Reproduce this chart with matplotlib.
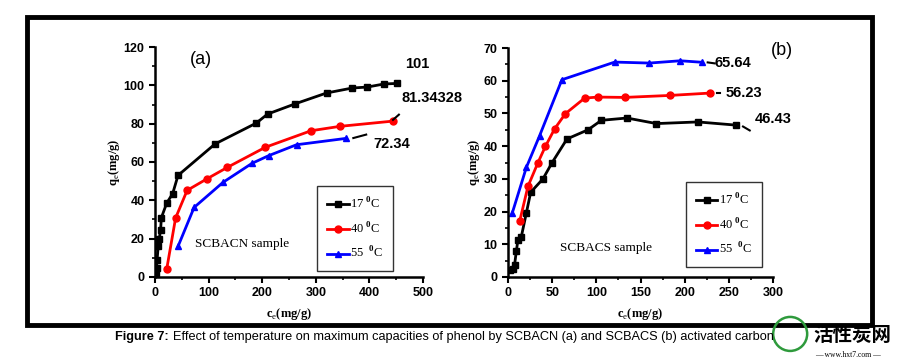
import matplotlib.pyplot as plt
from matplotlib.patches import Rectangle, Ellipse

# panel (a) SCBACN
a17_x = [2, 3, 4, 6, 8, 10.5, 12, 22, 33, 43, 112, 189, 210, 262, 320, 368, 396, 427, 452]
a17_y = [2, 4.7, 9, 16, 20, 24.7, 31, 38.6, 43.5, 53, 69.4, 80.3, 85, 90.4, 96, 98.6, 99.1, 100.7, 101]
a40_x = [22, 38.5, 60, 97.5, 135, 206, 291, 345, 444]
a40_y = [4.3, 30.8, 45.2, 51.3, 57.2, 67.7, 76.3, 78.6, 81.34]
a55_x = [43.5, 73, 127, 181, 212, 264, 357]
a55_y = [16.3, 36.3, 49.4, 59.3, 63.3, 69, 72.34]

# panel (b) SCBACS
b17_x = [2.6, 5.7, 7.5, 9.4, 11.3, 15, 20.8, 25.7, 39.6, 50, 66.8, 90.6, 105.7, 134.7, 168, 215, 258]
b17_y = [2.2, 2.4, 3.8, 7.8, 11.4, 12.2, 19.6, 25.9, 30, 35, 42.2, 45, 47.9, 48.6, 46.9, 47.4, 46.43]
b40_x = [13.2, 22.6, 34, 42.3, 52.8, 64.9, 86.8, 101.9, 132, 183, 229]
b40_y = [17, 27.7, 35, 39.9, 45.3, 49.9, 54.7, 55, 54.9, 55.5, 56.23]
b55_x = [4.9, 20.8, 35.8, 61, 120.8, 160, 195, 219.6]
b55_y = [19.6, 33.5, 43.2, 60.3, 65.7, 65.4, 66.1, 65.64]

labels = ['17 $^{\\mathbf{0}}$C', '40 $^{\\mathbf{0}}$C', '55  $^{\\mathbf{0}}$C']
colors = ['black', 'red', 'blue']
markers = ['s', 'o', '^']

sans = 'Liberation Sans'
serif = 'Liberation Serif'
plt.rcParams['mathtext.fontset'] = 'custom'
plt.rcParams['mathtext.rm'] = serif
plt.rcParams['mathtext.bf'] = serif + ':bold'

fig = plt.figure(figsize=(9.01, 3.61), dpi=100)
fig.patches.append(Rectangle((0.030, 0.100), 0.938, 0.853, transform=fig.transFigure,
                             fill=False, edgecolor='black', linewidth=3.5))


def setup(ax, xlim, ylim, xticks, yticks, xminor, yminor):
    ax.set_xlim(*xlim)
    ax.set_ylim(*ylim)
    ax.set_xticks(xticks)
    ax.set_yticks(yticks)
    ax.set_xticks(xminor, minor=True)
    ax.set_yticks(yminor, minor=True)
    for s in ['top', 'right']:
        ax.spines[s].set_visible(False)
    for s in ['left', 'bottom']:
        ax.spines[s].set_linewidth(1.8)
    ax.tick_params(which='major', direction='out', length=4, width=1.5, labelsize=9)
    ax.tick_params(which='minor', direction='out', length=2.5, width=1.2)
    for lab in ax.get_xticklabels() + ax.get_yticklabels():
        lab.set_family(sans)
        lab.set_fontweight('bold')
    ax.set_xlabel('c$_{\\mathrm{e}}$(mg/g)', family=serif, fontsize=9, fontweight='bold', labelpad=5)
    ax.set_ylabel('q$_{\\mathrm{e}}$(mg/g)', family=serif, fontsize=9, fontweight='bold', labelpad=1)


def legend(ax, anchor):
    leg = ax.legend(loc='lower right', bbox_to_anchor=anchor, prop={'family': serif, 'size': 9},
                    frameon=True, fancybox=False, edgecolor='black', handlelength=1.7,
                    handletextpad=0.1, borderpad=0.8, labelspacing=0.75, borderaxespad=0.0)
    leg.get_frame().set_linewidth(1.0)


ax1 = fig.add_axes([0.172, 0.2327, 0.2975, 0.6371])
for xs, ys, c, m, lab in zip([a17_x, a40_x, a55_x], [a17_y, a40_y, a55_y], colors, markers, labels):
    ax1.plot(xs, ys, color=c, marker=m, markersize=5, linewidth=2, label=lab)
setup(ax1, (0, 500), (0, 120), range(0, 501, 100), range(0, 121, 20),
      range(50, 500, 100), range(10, 120, 20))
legend(ax1, (0.888, 0.026))
ax1.plot([370, 394], [72.5, 74.3], color='black', linewidth=1.5)
ax1.plot([444, 455], [82, 84.7], color='black', linewidth=1.5)
ax1.text(467, 109, '101', family=sans, fontweight='bold', fontsize=10.5, clip_on=False)
ax1.text(460, 91.5, '81.34328', family=sans, fontweight='bold', fontsize=10.5, clip_on=False)
ax1.text(407, 67.5, '72.34', family=sans, fontweight='bold', fontsize=10.5, clip_on=False)
ax1.text(65, 111, '(a)', family=sans, fontsize=13)
ax1.text(75, 15.5, 'SCBACN sample', family=serif, fontsize=9.5)

ax2 = fig.add_axes([0.5638, 0.2327, 0.2942, 0.6343])
for xs, ys, c, m, lab in zip([b17_x, b40_x, b55_x], [b17_y, b40_y, b55_y], colors, markers, labels):
    ax2.plot(xs, ys, color=c, marker=m, markersize=5, linewidth=2, label=lab)
setup(ax2, (0, 300), (0, 70), range(0, 301, 50), range(0, 71, 10),
      range(25, 300, 50), range(5, 70, 10))
legend(ax2, (0.958, 0.044))
ax2.plot([226, 234], [65.6, 65.3], color='black', linewidth=1.5)
ax2.plot([237, 240], [56.2, 56.2], color='black', linewidth=1.5)
ax2.plot([266, 273.6], [46, 44.8], color='black', linewidth=1.5)
ax2.text(234, 64.2, '65.64', family=sans, fontweight='bold', fontsize=10.5, clip_on=False)
ax2.text(246, 55.0, '56.23', family=sans, fontweight='bold', fontsize=10.5, clip_on=False)
ax2.text(279, 47.0, '46.43', family=sans, fontweight='bold', fontsize=10.5, clip_on=False)
ax2.text(298, 67.8, '(b)', family=sans, fontsize=13, clip_on=False)
ax2.text(59, 7.8, 'SCBACS sample', family=serif, fontsize=9.5)

# caption
renderer = fig.canvas.get_renderer()
t1 = fig.text(0.128, 0.057, 'Figure 7:', family=sans, fontweight='bold', fontsize=9.2)
w = t1.get_window_extent(renderer).width / fig.bbox.width
fig.text(0.128 + w + 0.004, 0.057,
         'Effect of temperature on maximum capacities of phenol by SCBACN (a) and SCBACS (b) activated carbon',
         family=sans, fontsize=9.2)

# watermark
fig.patches.append(Ellipse((0.877, 0.075), 34 / 901, 34 / 361, transform=fig.transFigure,
                           fill=False, edgecolor='#2e9a3c', linewidth=1.8))
fig.text(0.903, 0.055, '活性炭网', family=['Noto Sans CJK SC', 'DejaVu Sans'], fontweight='bold', fontsize=14)
fig.text(0.905, 0.012, '— www.hxt7.com —', family=serif, fontsize=5.5)

fig.savefig('out.png', dpi=100)
